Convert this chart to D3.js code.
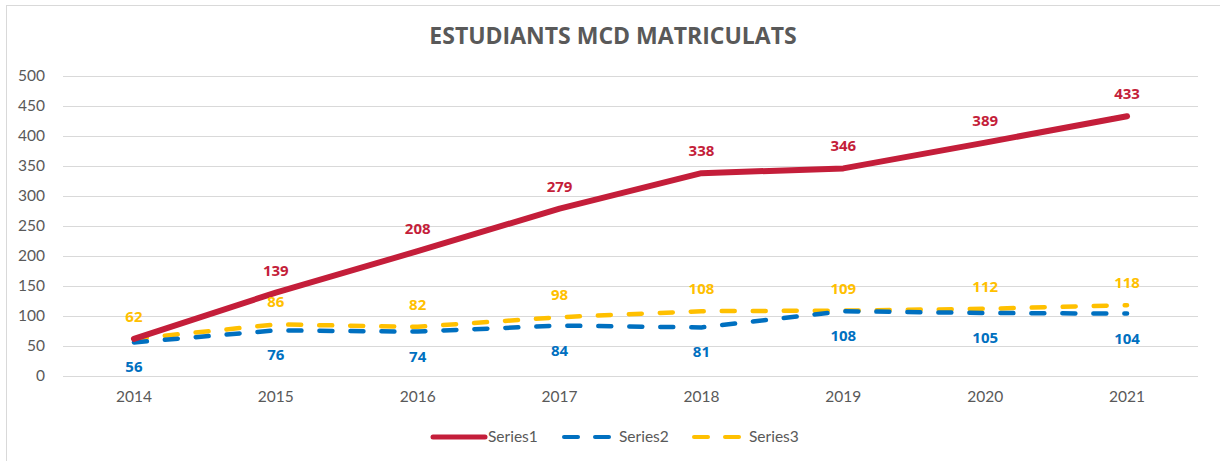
<!DOCTYPE html>
<html>
<head>
<meta charset="utf-8">
<script src="https://cdn.jsdelivr.net/npm/d3@7"></script>
<style>
  body { margin: 0; background: #fff; }
  svg { display: block; }
</style>
</head>
<body>
<svg width="1220" height="461"></svg>
<script>
// Chart data
var years = ["2014", "2015", "2016", "2017", "2018", "2019", "2020", "2021"];
var series1 = [62, 139, 208, 279, 338, 346, 389, 433];
var series2 = [56, 76, 74, 84, 81, 108, 105, 104];
var series3 = [62, 86, 82, 98, 108, 109, 112, 118];
var yTicks = [0, 50, 100, 150, 200, 250, 300, 350, 400, 450, 500];

var svg = d3.select("svg"),
    width = +svg.attr("width"),
    height = +svg.attr("height");

var margin = {left: 63, right: 22, top: 76, bottom: 85};

// outer chart frame
svg.append("rect")
    .attr("x", 6.5).attr("y", 5.5)
    .attr("width", width + 20).attr("height", height + 20)
    .attr("fill", "#fff")
    .attr("stroke", "#d9d9d9");

var x = d3.scaleBand()
    .domain(years)
    .range([margin.left, width - margin.right]);

var y = d3.scaleLinear()
    .domain([0, 500])
    .range([height - margin.bottom, margin.top]);

var xc = function(d) { return x(d) + x.bandwidth() / 2; };

// title
svg.append("text")
    .attr("x", 613).attr("y", 44)
    .attr("text-anchor", "middle")
    .attr("font-family", "Open Sans")
    .attr("font-weight", "bold")
    .attr("font-size", 23)
    .attr("fill", "#595959")
    .text("ESTUDIANTS MCD MATRICULATS");

// gridlines + y labels
var yAxis = svg.append("g")
    .attr("transform", "translate(" + margin.left + ",0)")
    .call(d3.axisLeft(y).tickValues(yTicks)
      .tickSize(-(width - margin.left - margin.right))
      .tickPadding(18));
yAxis.select(".domain").remove();
yAxis.selectAll("line").attr("stroke", "#d9d9d9");
yAxis.selectAll("text")
    .attr("font-family", "Lato")
    .attr("font-size", 15.5)
    .attr("fill", "#595959");

// x labels
var xAxis = svg.append("g")
    .attr("transform", "translate(0," + (height - margin.bottom) + ")")
    .call(d3.axisBottom(x).tickSize(0).tickPadding(15));
xAxis.select(".domain").remove();
xAxis.selectAll("text")
    .attr("font-family", "Lato")
    .attr("font-size", 15.5)
    .attr("fill", "#595959");

var line = d3.line()
    .x(function(d, i) { return xc(years[i]); })
    .y(function(d) { return y(d); });

var series = [
  {name: "Series1", values: series1, color: "#c41e3a", width: 6, dash: null, dy: -17},
  {name: "Series2", values: series2, color: "#0070c0", width: 4.5, dash: "13,18", dy: 30},
  {name: "Series3", values: series3, color: "#ffc000", width: 4.5, dash: "13,18", dy: -17}
];

// draw lines: series3, then series2 over it, series1 on top
[series[2], series[1], series[0]].forEach(function(s) {
  svg.append("path")
      .datum(s.values)
      .attr("fill", "none")
      .attr("stroke", s.color)
      .attr("stroke-width", s.width)
      .attr("stroke-linecap", "round")
      .attr("stroke-linejoin", "round")
      .attr("stroke-dasharray", s.dash)
      .attr("d", line);
});

// data labels
series.forEach(function(s) {
  svg.append("g").selectAll("text")
    .data(s.values.map(function(v, i) { return {v: v, i: i}; })
      // the Series1 label at 2014 is hidden behind the Series3 one
      .filter(function(d) { return !(s.name == "Series1" && series3[d.i] == d.v); }))
    .enter().append("text")
      .attr("x", function(d) { return xc(years[d.i]); })
      .attr("y", function(d) { return y(d.v) + s.dy; })
      .attr("text-anchor", "middle")
      .attr("font-family", "Open Sans")
      .attr("font-weight", "bold")
      .attr("font-size", 15)
      .attr("fill", s.color)
      .text(function(d) { return d.v; });
});

// legend
var legendY = 437;
var legendX = [431, 562, 692];
series.forEach(function(s, i) {
  var g = svg.append("g").attr("transform", "translate(" + legendX[i] + "," + legendY + ")");
  if (!s.dash) {
    g.append("line").attr("x1", 2).attr("x2", 54)
      .attr("stroke", s.color).attr("stroke-width", 5).attr("stroke-linecap", "round");
  } else {
    g.append("line").attr("x1", 2).attr("x2", 16)
      .attr("stroke", s.color).attr("stroke-width", 4).attr("stroke-linecap", "round");
    g.append("line").attr("x1", 33).attr("x2", 47)
      .attr("stroke", s.color).attr("stroke-width", 4).attr("stroke-linecap", "round");
  }
  g.append("text")
      .attr("x", 57)
      .attr("y", 5)
      .attr("font-family", "Lato")
      .attr("font-size", 15.5)
      .attr("fill", "#595959")
      .text(s.name);
});
</script>
</body>
</html>
